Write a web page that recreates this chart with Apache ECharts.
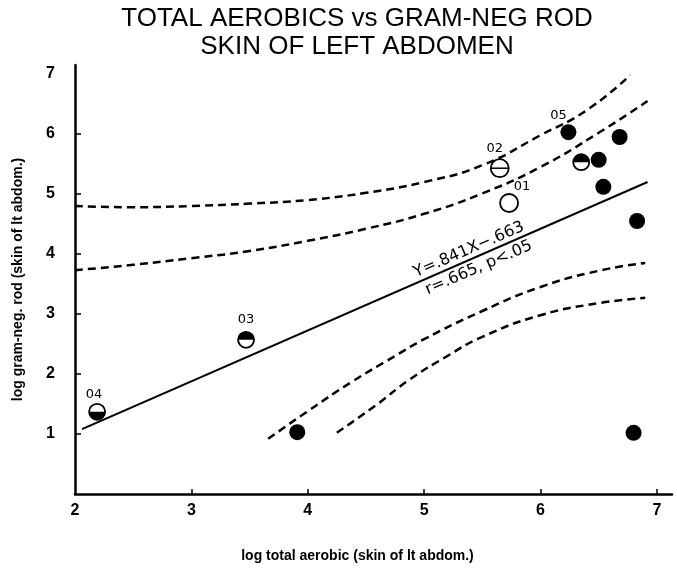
<!DOCTYPE html>
<html><head><meta charset="utf-8">
<script src="https://cdn.jsdelivr.net/npm/echarts@6/dist/echarts.min.js"></script>
<style>html,body{margin:0;padding:0;background:#fff}#c{width:677px;height:569px}</style>
</head><body><div id="c"></div>
<script>
// ---- data ----
const xTicks = [2, 3, 4, 5, 6, 7];
const yTicks = [1, 2, 3, 4, 5, 6, 7];
const ptLabels = ['04', '03', '', '02', '01', '05', '', '', '', '', '', ''];
const ptX = [2.19, 3.47, 3.91, 5.65, 5.73, 6.24, 6.35, 6.50, 6.68, 6.54, 6.83, 6.80];
const ptY = [1.37, 2.57, 1.03, 5.43, 4.85, 6.03, 5.53, 5.57, 5.95, 5.12, 4.55, 1.02];
const ptKind = ['bottomHalf', 'topHalf', 'filled', 'barred', 'open', 'filled', 'topHalf', 'filled', 'filled', 'filled', 'filled', 'filled'];
const fitX = [2.06, 6.92];
const fitY = [1.08, 5.20];
const upperOuterX = [2.0, 2.5, 3.0, 3.5, 4.0, 4.5, 5.0, 5.5, 6.0, 6.4, 6.77];
const upperOuterY = [4.80, 4.78, 4.80, 4.84, 4.90, 5.02, 5.20, 5.48, 5.98, 6.40, 6.98];
const upperInnerX = [2.0, 2.5, 3.0, 3.5, 4.0, 4.5, 5.0, 5.5, 6.0, 6.5, 6.92];
const upperInnerY = [3.73, 3.82, 3.93, 4.05, 4.22, 4.42, 4.67, 5.01, 5.45, 6.02, 6.55];
const lowerInnerX = [3.66, 4.0, 4.38, 4.75, 5.0, 5.5, 6.0, 6.5, 6.9];
const lowerInnerY = [0.92, 1.38, 1.87, 2.30, 2.58, 3.05, 3.45, 3.72, 3.85];
const lowerOuterX = [4.25, 4.6, 4.87, 5.2, 5.5, 6.0, 6.5, 6.9];
const lowerOuterY = [1.02, 1.50, 1.90, 2.30, 2.62, 2.98, 3.18, 3.27];
const eqTexts = ['Y=.841X\u2212.663', 'r=.665, p<.05'];
const eqX = [5.385, 5.47];
const eqY = [4.07, 3.77];
const titleText = 'TOTAL AEROBICS vs GRAM-NEG ROD\nSKIN OF LEFT ABDOMEN';
const xName = 'log total aerobic (skin of lt abdom.)';
const yName = 'log gram-neg. rod (skin of lt abdom.)';

// ---- styles ----
const FONT = '"Liberation Sans", Arial, sans-serif';
const labelOffset = {'04': [-3, -17], '03': [0, -20], '02': [-5, -20], '01': [13, -16], '05': [-10, -17]};
const pairs = (xs, ys) => xs.map((x, i) => [x, ys[i]]);
const dashed = {color: '#000', width: 2.5, type: [8, 5]};

const chart = echarts.init(document.getElementById('c'));
chart.setOption({
  animation: false,
  backgroundColor: '#fff',
  graphic: [{
    type: 'text', x: 357, y: 5,
    style: {text: titleText, font: 'normal 26px "Liberation Sans", Arial, sans-serif', lineHeight: 28,
      fill: '#000', align: 'center', verticalAlign: 'top'}
  }],
  grid: {left: 75, right: 5, top: 65, bottom: 75},
  xAxis: {
    type: 'value', min: 2, max: 7.13, interval: 1,
    name: xName, nameLocation: 'middle', nameGap: 55,
    nameTextStyle: {fontFamily: FONT, fontSize: 14, fontWeight: 'bold', color: '#000', padding: [0, 32, 0, 0]},
    axisLine: {show: true, onZero: false, lineStyle: {color: '#000', width: 2.5}},
    axisTick: {show: true, inside: true, length: 5, lineStyle: {color: '#000', width: 1.5}, customValues: xTicks.slice(1)},
    axisLabel: {color: '#000', fontFamily: FONT, fontSize: 16, fontWeight: 'bold', margin: 9, customValues: xTicks,
      formatter: v => (Number.isInteger(v) ? String(v) : '')},
    splitLine: {show: false}
  },
  yAxis: {
    type: 'value', min: 0, max: 7.15, interval: 1,
    name: yName, nameLocation: 'middle', nameGap: 50, nameRotate: 90,
    nameTextStyle: {fontFamily: FONT, fontSize: 14, fontWeight: 'bold', color: '#000'},
    axisLine: {show: true, onZero: false, lineStyle: {color: '#000', width: 2.5}},
    axisTick: {show: true, inside: true, length: 6, lineStyle: {color: '#000', width: 1.5}, customValues: yTicks.slice(0, 6)},
    axisLabel: {color: '#000', fontFamily: FONT, fontSize: 16, fontWeight: 'bold', margin: 20, customValues: yTicks,
      formatter: v => (Number.isInteger(v) && v > 0 ? String(v) : '')},
    splitLine: {show: false}
  },
  series: [
    {type: 'line', data: pairs(upperOuterX, upperOuterY), smooth: true, showSymbol: false, lineStyle: dashed, z: 2},
    {type: 'line', data: pairs(upperInnerX, upperInnerY), smooth: true, showSymbol: false, lineStyle: dashed, z: 2},
    {type: 'line', data: pairs(lowerInnerX, lowerInnerY), smooth: true, showSymbol: false, lineStyle: dashed, z: 2},
    {type: 'line', data: pairs(lowerOuterX, lowerOuterY), smooth: true, showSymbol: false, lineStyle: dashed, z: 2},
    {type: 'line', data: pairs(fitX, fitY), showSymbol: false, lineStyle: {color: '#000', width: 2}, z: 2},
    {
      type: 'custom', coordinateSystem: 'cartesian2d', z: 5,
      data: ptX.map((x, i) => [x, ptY[i], i]),
      renderItem: (params, api) => {
        const i = api.value(2);
        const p = api.coord([api.value(0), api.value(1)]);
        const cx = p[0], cy = p[1];
        const kind = ptKind[i];
        const ch = [];
        if (kind === 'filled') {
          ch.push({type: 'circle', shape: {cx, cy, r: 8}, style: {fill: '#000'}});
        } else {
          const r = (kind === 'open' || kind === 'barred') ? 9 : 8;
          ch.push({type: 'circle', shape: {cx, cy, r}, style: {fill: '#fff', stroke: '#000', lineWidth: 1.8}});
          if (kind === 'topHalf') ch.push({type: 'sector', shape: {cx, cy, r0: 0, r, startAngle: Math.PI, endAngle: 2 * Math.PI}, style: {fill: '#000'}});
          if (kind === 'bottomHalf') ch.push({type: 'sector', shape: {cx, cy, r0: 0, r, startAngle: 0, endAngle: Math.PI}, style: {fill: '#000'}});
          if (kind === 'barred') ch.push({type: 'line', shape: {x1: cx - r, y1: cy, x2: cx + r, y2: cy}, style: {stroke: '#000', lineWidth: 1.5}});
        }
        const lab = ptLabels[i];
        if (lab) {
          const o = labelOffset[lab];
          ch.push({type: 'text', x: cx + o[0], y: cy + o[1],
            style: {text: lab, fill: '#000', font: '13px "DejaVu Sans", sans-serif', align: 'center', verticalAlign: 'middle'}});
        }
        return {type: 'group', children: ch};
      }
    },
    {
      type: 'custom', coordinateSystem: 'cartesian2d', z: 6,
      data: eqX.map((x, i) => [x, eqY[i], i]),
      renderItem: (params, api) => {
        const i = api.value(2);
        const p = api.coord([api.value(0), api.value(1)]);
        return {type: 'text', x: p[0], y: p[1], rotation: 0.409,
          style: {text: eqTexts[i], fill: '#000', font: '16px "DejaVu Sans", sans-serif', align: 'center', verticalAlign: 'middle'}};
      }
    }
  ]
});
</script>
</body></html>
